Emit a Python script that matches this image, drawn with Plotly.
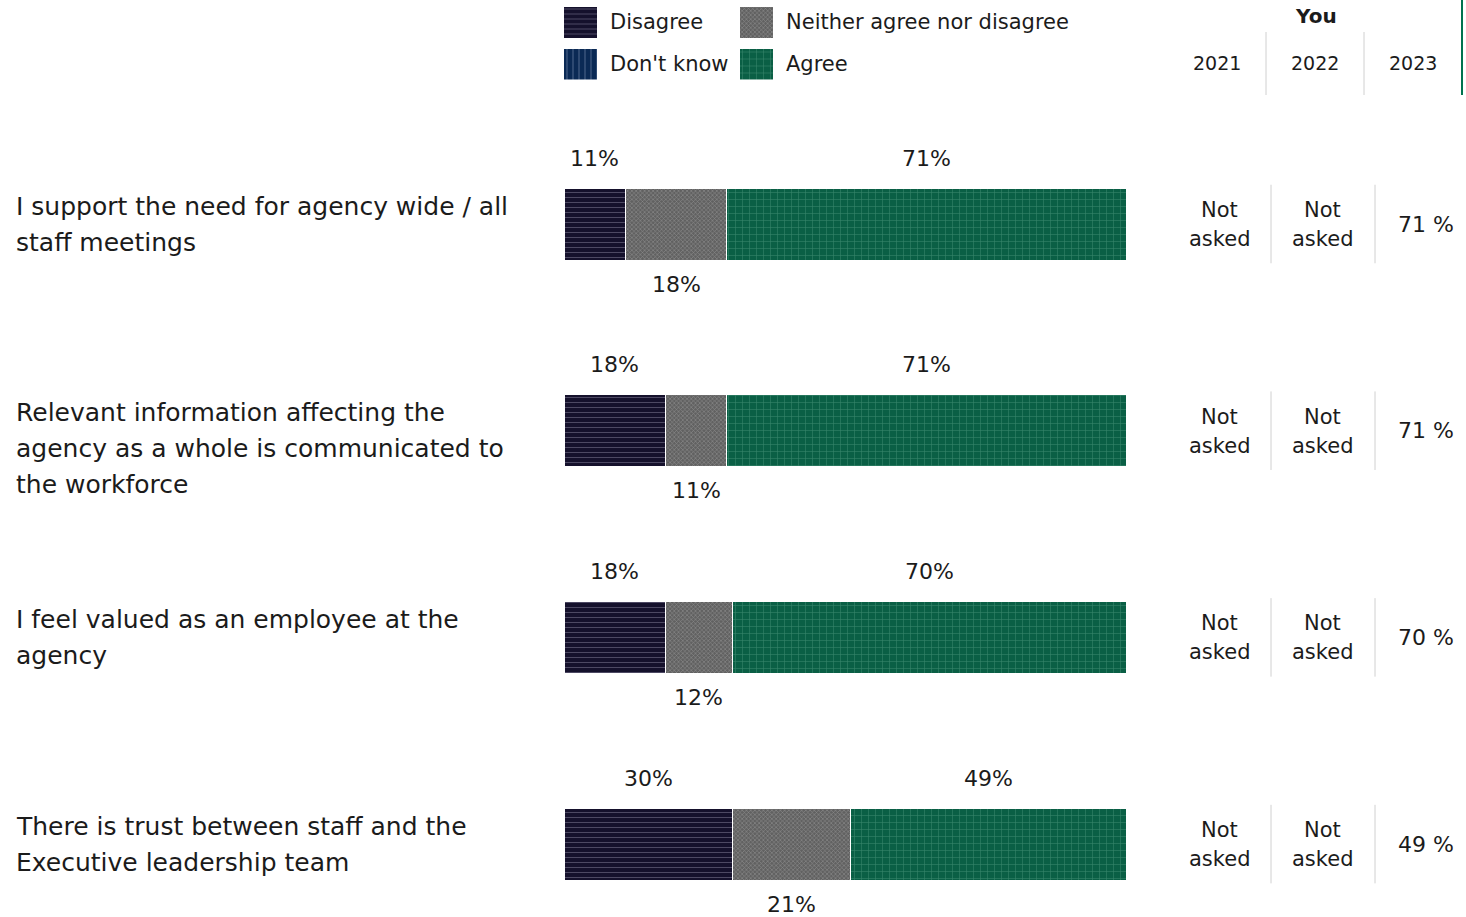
import plotly.graph_objects as go

# ---------------- data ----------------
questions = [
    "I support the need for agency wide / all<br>staff meetings",
    "Relevant information affecting the<br>agency as a whole is communicated to<br>the workforce",
    "I feel valued as an employee at the<br>agency",
    "There is trust between staff and the<br>Executive leadership team",
]
disagree = [11, 18, 18, 30]
neither = [18, 11, 12, 21]
dont_know = [0, 0, 0, 0]
agree = [71, 71, 70, 49]

years = ["2021", "2022", "2023"]
you_2021 = [None, None, None, None]
you_2022 = [None, None, None, None]
you_2023 = [71, 71, 70, 49]

legend_names = ["Disagree", "Neither agree nor disagree", "Don't know", "Agree"]

# ---------------- styles ----------------
FONT = "DejaVu Sans"
TXT = "#1b1b1b"
styles = {
    "Disagree": dict(bgcolor="#15112c", fgcolor="#85829a", shape="-", size=5, solidity=0.2),
    "Neither agree nor disagree": dict(bgcolor="#616161", fgcolor="#b8b8b8", shape="x", size=3, solidity=0.35),
    "Don't know": dict(bgcolor="#0b2a55", fgcolor="#8a9bbd", shape="|", size=6, solidity=0.18),
    "Agree": dict(bgcolor="#0a5f45", fgcolor="#62ab8f", shape="+", size=7, solidity=0.16),
}

W, H = 1466, 917
row_px = 206.7
first_center = 224
rows = list(range(len(questions)))
yr = [(H - first_center) / row_px, -first_center / row_px]
bar_w = 72 / row_px
LINE_PX = 36

fig = go.Figure()

series = [("Disagree", disagree), ("Neither agree nor disagree", neither),
          ("Don't know", dont_know), ("Agree", agree)]
for name, vals in series:
    fig.add_trace(go.Bar(
        y=rows, x=vals, orientation="h", name=name, width=bar_w,
        marker=dict(color=styles[name]["bgcolor"], pattern=dict(fillmode="overlay", **styles[name]),
                    line=dict(color="white", width=1)),
        showlegend=False, hoverinfo="skip",
    ))

# percent labels
for i in rows:
    cum = 0
    for name, vals in [("Disagree", disagree), ("Neither agree nor disagree", neither), ("Agree", agree)]:
        v = vals[i]
        mid = cum + v / 2
        cum += v
        above = name != "Neither agree nor disagree"
        fig.add_annotation(x=mid, y=i, xref="x", yref="y", text=f"{v}%", showarrow=False,
                           xanchor="center", yanchor="middle",
                           yshift=66 if above else -60, font=dict(size=22, color=TXT, family=FONT))
    # question label, one annotation per line for the reference's line spacing
    for k, line in enumerate(questions[i].split("<br>")):
        fig.add_annotation(x=14 / W, y=i, xref="paper", yref="y", text=line, showarrow=False,
                           xanchor="left", yanchor="middle", align="left",
                           yshift=18 - k * LINE_PX,
                           font=dict(size=25, color=TXT, family=FONT))

# ---------------- legend built in its own small axis ----------------
leg_cols = 2
sw_w_px, col_px, sw_h_px, rowg_px = 33, 176, 31, 42
sw_w = sw_w_px / col_px
sw_h = sw_h_px / rowg_px
for k, name in enumerate(legend_names):
    c, r = k % leg_cols, k // leg_cols
    fig.add_trace(go.Bar(
        y=[r], x=[sw_w], base=[c - sw_w / 2], orientation="h", width=sw_h,
        xaxis="x3", yaxis="y3", showlegend=False, hoverinfo="skip",
        marker=dict(color=styles[name]["bgcolor"], pattern=dict(fillmode="overlay", **styles[name]),
                    line=dict(width=0)),
    ))
    fig.add_annotation(x=c + sw_w / 2, y=r, xref="x3", yref="y3", text=name, showarrow=False,
                       xanchor="left", yanchor="middle", xshift=11,
                       font=dict(size=21, color=TXT, family=FONT))

leg_left = 564
leg_right = leg_left + col_px + sw_w_px
leg_top = 22 - sw_h_px / 2
leg_bot = 22 + rowg_px + sw_h_px / 2

# ---------------- right-hand table ----------------
hdr_x = [1217, 1315, 1413]
cell_x = [1219, 1322, 1426]
fig.add_annotation(x=1316 / W, y=1 - 16 / H, xref="paper", yref="paper", text="<b>You</b>",
                   showarrow=False, xanchor="center", yanchor="middle",
                   font=dict(size=20, color=TXT, family=FONT))
for j, yname in enumerate(years):
    fig.add_annotation(x=hdr_x[j] / W, y=1 - 63 / H, xref="paper", yref="paper", text=yname,
                       showarrow=False, xanchor="center", yanchor="middle",
                       font=dict(size=19, color=TXT, family=FONT))
for xs in [1266, 1364]:
    fig.add_shape(type="line", xref="paper", yref="paper", x0=xs / W, x1=xs / W,
                  y0=1 - 32 / H, y1=1 - 95 / H, line=dict(color="#d0d0d0", width=1))
fig.add_shape(type="line", xref="paper", yref="paper", x0=1462 / W, x1=1462 / W,
              y0=1, y1=1 - 95 / H, line=dict(color="#00734f", width=2))

cols = [you_2021, you_2022, you_2023]
for i in rows:
    for j, col in enumerate(cols):
        v = col[i]
        if v is None:
            for k, line in enumerate(["Not", "asked"]):
                fig.add_annotation(x=cell_x[j] / W, y=i, xref="paper", yref="y", text=line,
                                   showarrow=False, xanchor="center", yanchor="middle",
                                   yshift=14 - k * 29, font=dict(size=21, color=TXT, family=FONT))
        else:
            fig.add_annotation(x=cell_x[j] / W, y=i, xref="paper", yref="y", text=f"{v} %",
                               showarrow=False, xanchor="center", yanchor="middle",
                               font=dict(size=22, color=TXT, family=FONT))
    for xs in [1271, 1375]:
        fig.add_shape(type="line", xref="paper", yref="y", x0=xs / W, x1=xs / W,
                      y0=i - 0.19, y1=i + 0.19, line=dict(color="#d0d0d0", width=1))

fig.update_layout(
    width=W, height=H, barmode="stack", plot_bgcolor="white", paper_bgcolor="white",
    margin=dict(l=0, r=0, t=0, b=0), showlegend=False,
    xaxis=dict(domain=[564 / W, 1126 / W], range=[0, 100], visible=False, fixedrange=True),
    yaxis=dict(domain=[0, 1], range=yr, visible=False, fixedrange=True),
    xaxis3=dict(domain=[leg_left / W, leg_right / W], anchor="y3",
                range=[-sw_w / 2, 1 + sw_w / 2], visible=False, fixedrange=True),
    yaxis3=dict(domain=[1 - leg_bot / H, 1 - leg_top / H], anchor="x3",
                range=[1 + sw_h / 2, -sw_h / 2], visible=False, fixedrange=True),
    font=dict(family=FONT, color=TXT),
)

fig.write_html("out.html", config={"displayModeBar": False},
               post_script="document.body.style.margin='0px';document.body.style.overflow='hidden';")
